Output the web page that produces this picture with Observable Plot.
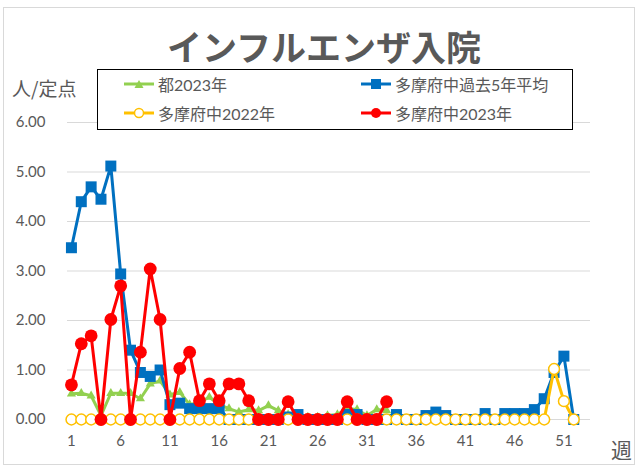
<!DOCTYPE html>
<html><head><meta charset="utf-8">
<script src="https://cdn.jsdelivr.net/npm/d3@7"></script>
<script src="https://cdn.jsdelivr.net/npm/@observablehq/plot@0.6"></script>
<style>
body{margin:0;background:#fff;}
#wrap{position:relative;width:643px;height:468px;overflow:hidden;font-family:Lato,"Noto Sans CJK JP",sans-serif;color:#595959;}
#frame{position:absolute;left:3px;top:7px;width:632px;height:458px;border:1px solid #d9d9d9;box-sizing:border-box;pointer-events:none;}
#title{position:absolute;left:0;width:648px;top:23px;text-align:center;font-family:"Noto Sans CJK JP",sans-serif;font-weight:bold;font-size:35px;color:#595959;line-height:46px;}
#ylab{position:absolute;left:12px;top:75px;font-size:19px;font-family:"Noto Sans CJK JP",sans-serif;line-height:26px;}
#xlab{position:absolute;left:611px;top:435px;font-size:21px;font-family:"Noto Sans CJK JP",sans-serif;line-height:28px;}
#legend{position:absolute;left:97px;top:69px;width:476px;height:61px;border:1.5px solid #000;background:#fff;box-sizing:border-box;}
.item{position:absolute;display:flex;align-items:center;font-size:16px;white-space:nowrap;height:22px;}
.item svg{margin-right:3px;}
#chart{position:absolute;left:0;top:0;}
</style></head>
<body><div id="wrap"><div id="chart"></div><div id="frame"></div><div id="title">インフルエンザ入院</div><div id="ylab">人/定点</div><div id="xlab">週</div><div id="legend"></div></div>
<script>
const weeks = [1,2,3,4,5,6,7,8,9,10,11,12,13,14,15,16,17,18,19,20,21,22,23,24,25,26,27,28,29,30,31,32,33,34,35,36,37,38,39,40,41,42,43,44,45,46,47,48,49,50,51,52];
const seriesNames = ["都2023年","多摩府中過去5年平均","多摩府中2022年","多摩府中2023年"];
const tokyo2023 = [0.52,0.53,0.48,0.08,0.53,0.53,0.53,0.42,0.72,0.78,0.50,0.55,0.30,0.35,0.45,0.30,0.22,0.15,0.20,0.18,0.28,0.18,0.10,0.10,0.05,0.05,0.08,0.10,0.22,0.20,0.08,0.20,0.18];
const fuchu5yr = [3.47,4.40,4.70,4.45,5.12,2.94,1.40,0.95,0.87,1.00,0.30,0.33,0.22,0.22,0.22,0.22,0,0,0,0,0,0,0.05,0.10,0,0,0,0,0.10,0.10,0,0,0,0.10,0,0,0.08,0.15,0.08,0,0,0,0.12,0,0.12,0.12,0.12,0.20,0.42,0.95,1.28,0];
const fuchu2022 = [0,0,0,0,0,0,0,0,0,0,0,0,0,0,0,0,0,0,0,0,0,0,0,0,0,0,0,0,0,0,0,0,0,0,0,0,0,0,0,0,0,0,0,0,0,0,0,0,0,1.02,0.37,0];
const fuchu2023 = [0.70,1.53,1.69,0,2.02,2.70,0,1.36,3.04,2.02,0,1.03,1.36,0.38,0.72,0.38,0.72,0.72,0.38,0,0,0,0.36,0,0,0,0,0,0.36,0,0,0,0.36];
const yTicks = [0,1,2,3,4,5,6];
const xTicks = [1,6,11,16,21,26,31,36,41,46,51];

const colors = ["#92D050","#0070C0","#FFC000","#FF0000"];
const toRows = vals => vals.map((v,i)=>({week:weeks[i],value:v}));
const dG = toRows(tokyo2023), dB = toRows(fuchu5yr), dY = toRows(fuchu2022), dR = toRows(fuchu2023);

const chart = Plot.plot({
  width:643, height:468,
  marginLeft:67, marginRight:53, marginTop:122, marginBottom:49,
  style:{fontFamily:'Lato,"Noto Sans CJK JP",sans-serif',fontSize:"15px",color:"#595959",background:"transparent"},
  x:{domain:[0.6,53.7]},
  y:{domain:[0,6]},
  marks:[
    Plot.gridY(yTicks,{stroke:"#d9d9d9",strokeOpacity:1,strokeWidth:1}),
    Plot.axisY(yTicks,{tickSize:0,tickPadding:22,tickFormat:d=>d.toFixed(2),label:null,fontSize:15}),
    Plot.axisX(xTicks,{tickSize:0,tickPadding:16,label:null,fontSize:15}),
    Plot.line(dG,{x:"week",y:"value",stroke:colors[0],strokeWidth:3}),
    Plot.dot(dG,{x:"week",y:"value",symbol:"triangle",r:3.4,fill:colors[0],stroke:"none"}),
    Plot.line(dB,{x:"week",y:"value",stroke:colors[1],strokeWidth:3}),
    Plot.dot(dB,{x:"week",y:"value",symbol:"square",r:6.2,fill:colors[1],stroke:"none"}),
    Plot.line(dY,{x:"week",y:"value",stroke:colors[2],strokeWidth:3}),
    Plot.dot(dY,{x:"week",y:"value",symbol:"circle",r:5.4,fill:"#fff",stroke:colors[2],strokeWidth:1.5}),
    Plot.line(dR,{x:"week",y:"value",stroke:colors[3],strokeWidth:3}),
    Plot.dot(dR,{x:"week",y:"value",symbol:"circle",r:6.4,fill:colors[3],stroke:"none"})
  ]
});
document.getElementById("chart").appendChild(chart);

function swatch(i){
  const c = colors[i];
  let m = "";
  if(i===0) m = `<path d="M16,3 L20.5,11 L11.5,11 Z" fill="${c}"/>`;
  if(i===1) m = `<rect x="11" y="2" width="10" height="10" fill="${c}"/>`;
  if(i===2) m = `<circle cx="16" cy="7" r="4.5" fill="#fff" stroke="${c}" stroke-width="1.5"/>`;
  if(i===3) m = `<circle cx="16" cy="7" r="5" fill="${c}"/>`;
  return `<svg width="32" height="14"><line x1="1" y1="7" x2="31" y2="7" stroke="${c}" stroke-width="3"/>${m}</svg>`;
}
const pos = [[25,3],[262,3],[25,32],[262,32]];
const leg = document.getElementById("legend");
seriesNames.forEach((n,i)=>{
  const d = document.createElement("div");
  d.className="item";
  d.style.left=pos[i][0]+"px"; d.style.top=pos[i][1]+"px";
  d.innerHTML = swatch(i)+`<span>${n}</span>`;
  leg.appendChild(d);
});
</script></body></html>
